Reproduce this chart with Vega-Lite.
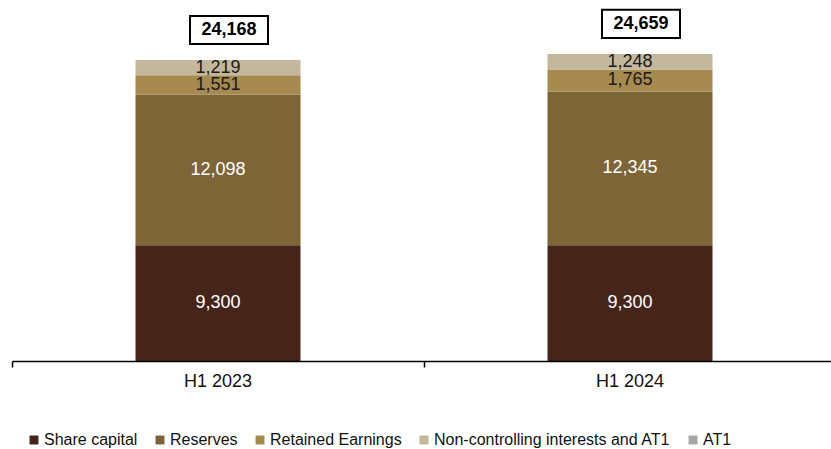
{
  "$schema": "https://vega.github.io/schema/vega-lite/v6.json",
  "width": 824,
  "height": 349,
  "autosize": "none",
  "padding": {"left": 12, "top": 12, "right": 0, "bottom": 88},
  "background": "white",
  "config": {
    "view": {"stroke": null},
    "font": "Liberation Sans"
  },
  "datasets": {
    "parts": [
      {"period": "H1 2023", "component": "Share capital", "ord": 1, "value": 9300},
      {"period": "H1 2023", "component": "Reserves", "ord": 2, "value": 12098},
      {"period": "H1 2023", "component": "Retained Earnings", "ord": 3, "value": 1551},
      {"period": "H1 2023", "component": "Non-controlling interests and AT1", "ord": 4, "value": 1219},
      {"period": "H1 2024", "component": "Share capital", "ord": 1, "value": 9300},
      {"period": "H1 2024", "component": "Reserves", "ord": 2, "value": 12345},
      {"period": "H1 2024", "component": "Retained Earnings", "ord": 3, "value": 1765},
      {"period": "H1 2024", "component": "Non-controlling interests and AT1", "ord": 4, "value": 1248}
    ],
    "totals": [
      {"period": "H1 2023", "total": 24168},
      {"period": "H1 2024", "total": 24659}
    ]
  },
  "layer": [
    {
      "data": {"name": "parts"},
      "transform": [
        {"stack": "value", "groupby": ["period"], "sort": [{"field": "ord", "order": "ascending"}], "as": ["v0", "v1"]}
      ],
      "mark": {"type": "bar", "width": 165},
      "encoding": {
        "x": {
          "field": "period", "type": "nominal", "title": null,
          "scale": {"paddingInner": 0, "paddingOuter": 0},
          "axis": {
            "bandPosition": 0,
            "labelAngle": 0,
            "labelFontSize": 18,
            "labelColor": "#111",
            "labelPadding": 5,
            "domainColor": "#000",
            "domainWidth": 1.5,
            "tickColor": "#000",
            "tickWidth": 1.5,
            "tickSize": 6,
            "grid": false,
            "zindex": 1
          }
        },
        "y": {"field": "v0", "type": "quantitative", "scale": {"domain": [0, 28020], "nice": false, "zero": true}, "axis": null},
        "y2": {"field": "v1"},
        "color": {
          "field": "component", "type": "nominal",
          "scale": {
            "domain": ["Share capital", "Reserves", "Retained Earnings", "Non-controlling interests and AT1", "AT1"],
            "range": ["#45251A", "#7D6538", "#A68A50", "#C4B89C", "#A6A6A6"]
          },
          "legend": {
            "title": null,
            "orient": "none",
            "direction": "horizontal",
            "legendX": 14,
            "legendY": 420,
            "symbolType": "square",
            "symbolSize": 80,
            "symbolStrokeWidth": 0,
            "labelFontSize": 16,
            "labelColor": "#111",
            "labelLimit": 0,
            "labelOffset": 2,
            "columnPadding": 14,
            "symbolOffset": 0
          }
        }
      }
    },
    {
      "data": {"name": "parts"},
      "transform": [
        {"stack": "value", "groupby": ["period"], "sort": [{"field": "ord", "order": "ascending"}], "as": ["v0", "v1"]},
        {"calculate": "(datum.v0 + datum.v1) / 2", "as": "mid"}
      ],
      "mark": {"type": "text", "fontSize": 18, "baseline": "middle", "align": "center"},
      "encoding": {
        "x": {"field": "period", "type": "nominal"},
        "y": {"field": "mid", "type": "quantitative"},
        "text": {"field": "value", "type": "quantitative", "format": ","},
        "color": {"condition": {"test": "datum.ord <= 2", "value": "#ffffff"}, "value": "#1a1a1a"}
      }
    },
    {
      "data": {"name": "totals"},
      "mark": {
        "type": "point",
        "shape": "M-1,-0.36L1,-0.36L1,0.36L-1,0.36Z",
        "size": 6084,
        "filled": false,
        "fill": "white",
        "fillOpacity": 1,
        "stroke": "#000",
        "strokeWidth": 2,
        "opacity": 1,
        "xOffset": 11,
        "yOffset": -30
      },
      "encoding": {
        "x": {"field": "period", "type": "nominal"},
        "y": {"field": "total", "type": "quantitative"}
      }
    },
    {
      "data": {"name": "totals"},
      "mark": {"type": "text", "fontSize": 18, "fontWeight": "bold", "baseline": "middle", "align": "center", "xOffset": 11, "yOffset": -30, "color": "#000"},
      "encoding": {
        "x": {"field": "period", "type": "nominal"},
        "y": {"field": "total", "type": "quantitative"},
        "text": {"field": "total", "type": "quantitative", "format": ","}
      }
    }
  ]
}
